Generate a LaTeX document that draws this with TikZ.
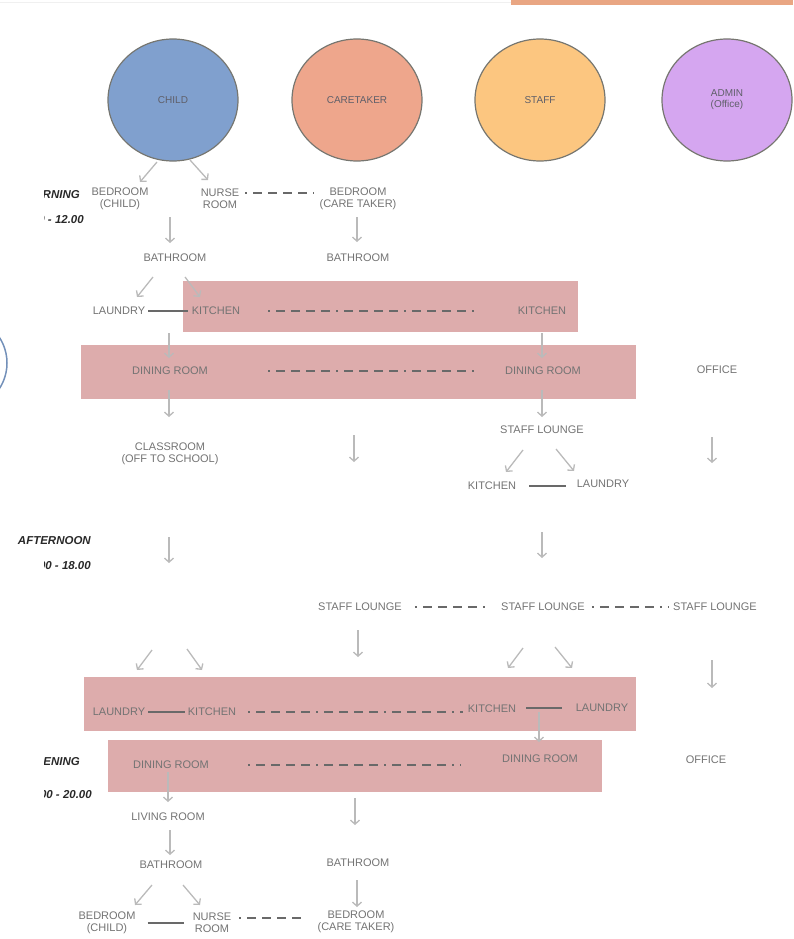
\documentclass[tikz,border=0pt]{standalone}
\usepackage{fontspec}
\setmainfont{Liberation Sans}
\usetikzlibrary{shapes.geometric, arrows.meta}

\definecolor{childblue}{RGB}{128,160,206}
\definecolor{carepeach}{RGB}{238,166,140}
\definecolor{staffgold}{RGB}{252,198,128}
\definecolor{adminlilac}{RGB}{213,166,240}
\definecolor{ringgray}{RGB}{118,118,112}
\definecolor{ringtext}{RGB}{95,95,105}
\definecolor{roomgray}{RGB}{115,115,115}
\definecolor{arrowgray}{RGB}{186,186,186}
\definecolor{linegray}{RGB}{105,105,105}
\definecolor{bandpink}{RGB}{221,172,172}
\definecolor{labelblack}{RGB}{40,40,40}
\definecolor{tabpeach}{RGB}{233,166,131}

\begin{document}
\begin{tikzpicture}[x=1pt, y=-1pt,
            role/.style={ellipse, draw=ringgray, line width=1.2pt, minimum width=130pt, minimum height=122pt, text=ringtext, font=\fontsize{10}{11}\selectfont, align=center},
            room/.style={text=roomgray, font=\fontsize{11}{12}\selectfont, align=center, inner sep=2pt},
            time/.style={text=labelblack, font=\fontsize{11.5}{12}\selectfont\bfseries\itshape, anchor=east, inner sep=0pt},
            band/.style={fill=bandpink, inner sep=0pt},
            flow/.style={-{Straight Barb[length=4pt, width=9pt]}, draw=arrowgray, line width=1.3pt},
            wall/.style={draw=linegray, line width=2.4pt},
            link/.style={draw=linegray, line width=1.8pt, dash pattern=on 2pt off 6pt on 9pt off 6pt on 9pt off 6pt on 9pt off 6pt on 9pt off 6pt}]

            \useasboundingbox (0,0) rectangle (793,939);
            \clip (0,0) rectangle (793,939);

            % page edge bits
            \draw[gray!12, line width=1pt] (0,3) -- (511,3);
            \fill[tabpeach] (511,0) rectangle (793,5);
            \draw[childblue!90!black, line width=1.5pt] (-40,363) circle (47pt);

            % who
            \node[role, fill=childblue] (child) at (173,100) {CHILD};
            \node[role, fill=carepeach] (care) at (357,100) {CARETAKER};
            \node[role, fill=staffgold] (staff) at (540,100) {STAFF};
            \node[role, fill=adminlilac] (admin) at (727,100) {ADMIN\\(Office)};

            % shared rooms
            \node[band, minimum width=395pt, minimum height=51pt] (band1) at (380.5,306.5) {};
            \node[band, minimum width=555pt, minimum height=54pt] (band2) at (358.5,372) {};
            \node[band, minimum width=552pt, minimum height=54pt] (band3) at (360,704) {};
            \node[band, minimum width=494pt, minimum height=52pt] (band4) at (355,766) {};

            % times of day
            \begin{scope}
                \clip (44,0) rectangle (793,939);
                \node[time] (morning) at (80,195) {MORNING};
                \node[time] (morningtime) at (84,220) {08.00 - 12.00};
                \node[time] (aftertime) at (91,566) {12.00 - 18.00};
                \node[time] (evening) at (80,762) {EVENING};
                \node[time] (eveningtime) at (92,795) {18.00 - 20.00};
            \end{scope}
            \node[time] (afternoon) at (91,541) {AFTERNOON};

            % morning
            \node[room] (bedchild1) at (120,199) {BEDROOM\\(CHILD)};
            \node[room] (nurse1) at (220,199) {NURSE\\ROOM};
            \node[room] (bedcare1) at (358,199) {BEDROOM\\(CARE TAKER)};
            \node[room] (bathchild1) at (175,258) {BATHROOM};
            \node[room] (bathcare1) at (358,258) {BATHROOM};
            \node[room] (laundry1) at (119,311) {LAUNDRY};
            \node[room] (kitchen1) at (216,311) {KITCHEN};
            \node[room] (kitchen2) at (542,311) {KITCHEN};
            \node[room] (dining1) at (170,371) {DINING ROOM};
            \node[room] (dining2) at (543,371) {DINING ROOM};
            \node[room] (office1) at (717,370) {OFFICE};
            \node[room] (class1) at (170,454) {CLASSROOM\\(OFF TO SCHOOL)};
            \node[room] (lounge1) at (542,430) {STAFF LOUNGE};
            \node[room] (kitchen3) at (492,486) {KITCHEN};
            \node[room] (laundry2) at (603,484) {LAUNDRY};

            % afternoon
            \node[room] (lounge2) at (360,607) {STAFF LOUNGE};
            \node[room] (lounge3) at (543,607) {STAFF LOUNGE};
            \node[room] (lounge4) at (715,607) {STAFF LOUNGE};

            % evening
            \node[room] (laundry3) at (119,712) {LAUNDRY};
            \node[room] (kitchen4) at (212,712) {KITCHEN};
            \node[room] (kitchen5) at (492,709) {KITCHEN};
            \node[room] (laundry4) at (602,708) {LAUNDRY};
            \node[room] (dining3) at (171,765) {DINING ROOM};
            \node[room] (dining4) at (540,759) {DINING ROOM};
            \node[room] (office2) at (706,760) {OFFICE};
            \node[room] (living1) at (168,817) {LIVING ROOM};
            \node[room] (bathchild2) at (171,865) {BATHROOM};
            \node[room] (bathcare2) at (358,863) {BATHROOM};
            \node[room] (bedchild2) at (107,923) {BEDROOM\\(CHILD)};
            \node[room] (nurse2) at (212,923) {NURSE\\ROOM};
            \node[room] (bedcare2) at (356,922) {BEDROOM\\(CARE TAKER)};

            % moves
            \foreach \n/\xa/\ya/\xb/\yb in {a1/157/162/140/182, a2/190/160/208/180, a3/170/217/170/243,
                    a4/357/217/357/242, a5/153/277/137/297, a6/185/277/200/297, a7/169/333/169/358,
                    a8/542/333/542/358, a9/169/390/169/417, a10/542/390/542/417, a11/354/435/354/462,
                    a12/712/437/712/463, a13/523/450/506/472, a14/556/449/574/471, a15/169/537/169/563,
                    a16/542/532/542/558, a17/358/630/358/657, a18/152/650/137/670, a19/187/649/202/670,
                    a20/523/648/508/668, a21/555/647/572/668, a22/712/660/712/688, a23/539/712/539/742,
                    a24/168/772/168/802, a25/355/798/355/825, a26/170/830/170/855, a27/357/880/357/907,
                    a28/152/885/135/905, a29/183/885/200/905} {
                \coordinate (s\n) at (\xa,\ya);
                \coordinate (e\n) at (\xb,\yb);
                \draw[flow] (s\n) -- (e\n);
            }

            % same room, same time
            \draw[link, shorten <=4pt, shorten >=3pt] ([yshift=6pt]nurse1.east) -- ([yshift=6pt]bedcare1.west);
            \draw[wall, shorten <=1pt, shorten >=2pt] (laundry1) -- (kitchen1);
            \draw[link, shorten <=26pt, shorten >=36pt] (kitchen1) -- (kitchen2);
            \draw[link, shorten <=58pt, shorten >=23pt] (dining1) -- (dining2);
            \draw[wall, shorten <=11pt, shorten >=9pt] (kitchen3.east) -- (kitchen3.east -| laundry2.west);
            \draw[link, shorten <=11pt, shorten >=14pt] (lounge2) -- (lounge3);
            \draw[link, shorten <=5pt, shorten >=2pt] (lounge3) -- (lounge4);
            \draw[wall, shorten <=1pt, shorten >=1pt] (laundry3) -- (kitchen4);
            \draw[link, shorten <=10pt, shorten >=3pt] (kitchen4.east) -- (kitchen4.east -| kitchen5.west);
            \draw[wall, shorten <=8pt, shorten >=12pt] (laundry4.west -| kitchen5.east) -- (laundry4.west);
            \draw[link, shorten <=37pt, shorten >=39pt] (dining3.east) -- (dining3.east -| dining4.west);
            \draw[wall, shorten <=10pt, shorten >=7pt] (bedchild2) -- (nurse2);
            \draw[link, shorten <=6pt, shorten >=8pt] ([yshift=5pt]nurse2.east) -- ([yshift=5pt]nurse2.east -| bedcare2.west);
        \end{tikzpicture}
\end{document}
